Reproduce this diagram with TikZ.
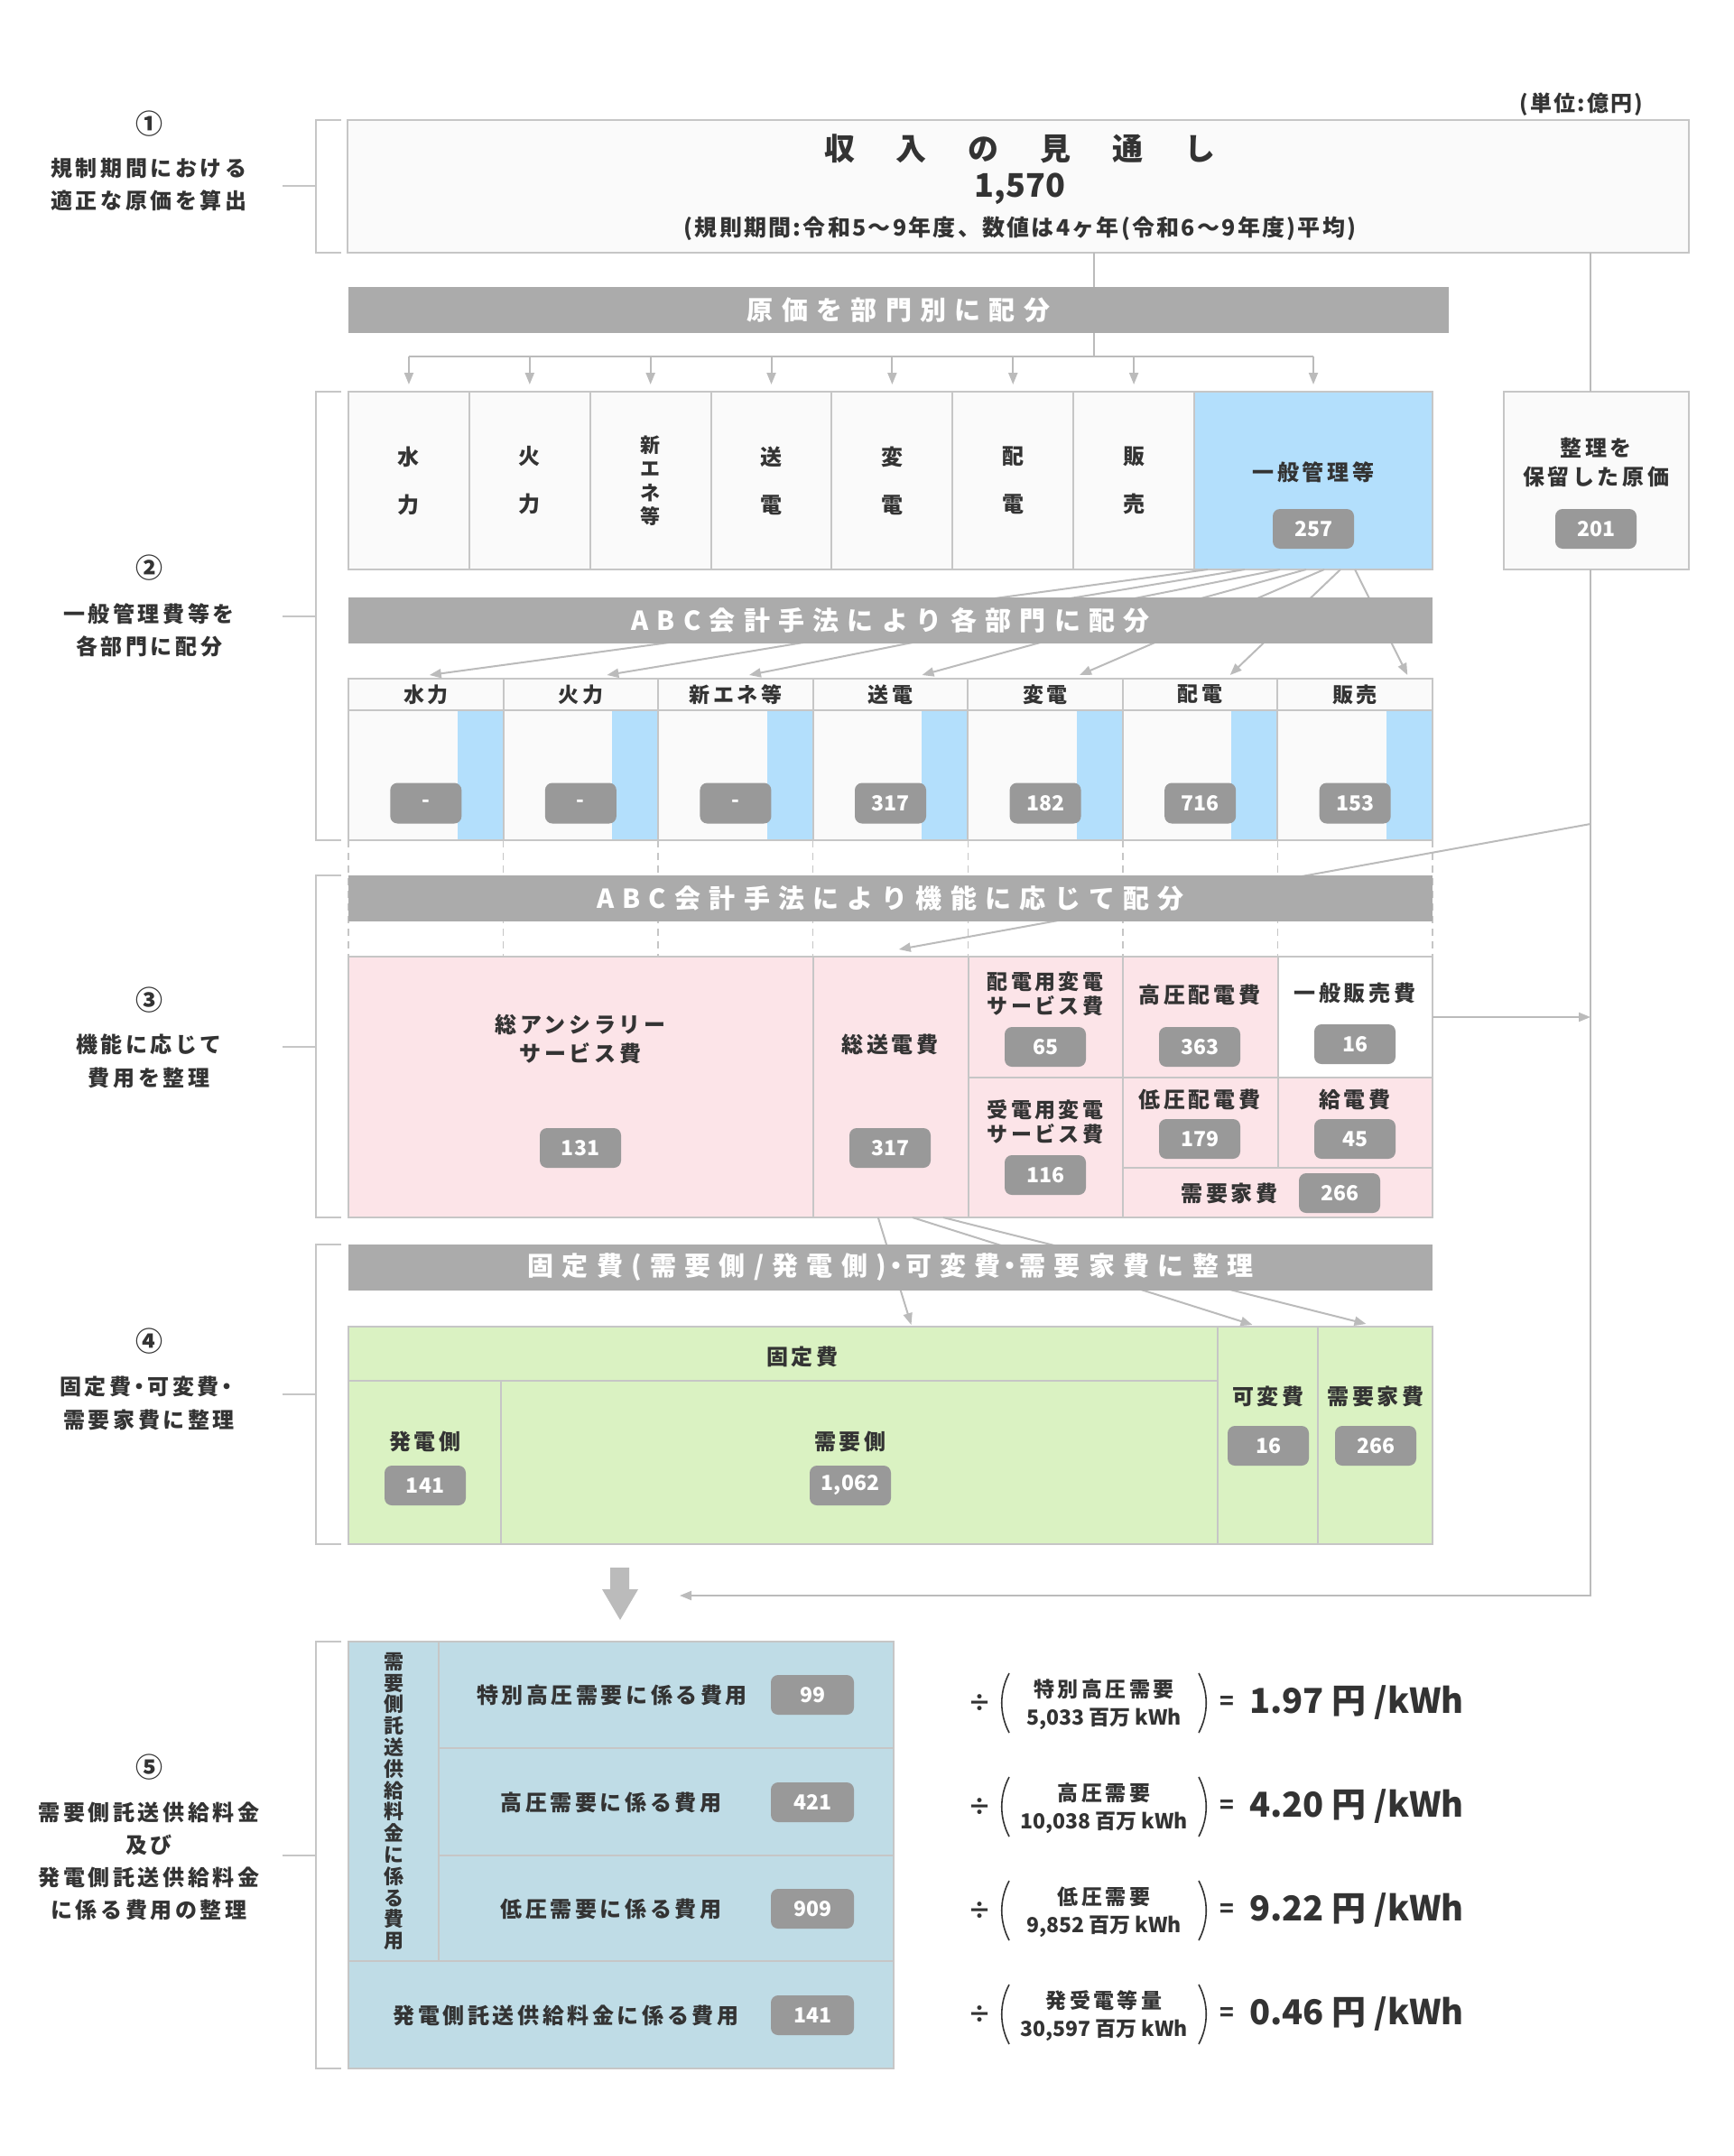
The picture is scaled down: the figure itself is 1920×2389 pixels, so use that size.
\documentclass[tikz,border=0pt]{standalone}
\usepackage{fontspec}
\setmainfont{Noto Sans CJK JP}
\newfontfamily\jpa{Noto Sans CJK JP}[LetterSpace=15]
\newfontfamily\jpb{Noto Sans CJK JP}[LetterSpace=9]
\newfontfamily\jpc{Noto Sans CJK JP}[LetterSpace=32]
\usetikzlibrary{arrows.meta}
\newcommand\fsz[2]{\fontsize{#1}{#2}\selectfont}
\newcommand\ndot[1]{\hspace{-#1}・\hspace{-#1}}

\definecolor{ink}{HTML}{333333}
\definecolor{linegray}{HTML}{BBBBBB}
\definecolor{boxline}{HTML}{C6C6C6}
\definecolor{boxfill}{HTML}{FAFAFA}
\definecolor{bargray}{HTML}{ABABAB}
\definecolor{badgegray}{HTML}{999999}
\definecolor{skyblue}{HTML}{B3DFFC}
\definecolor{pinkcell}{HTML}{FCE4E8}
\definecolor{greencell}{HTML}{DAF2C2}
\definecolor{tealcell}{HTML}{BFDCE6}

\tikzset{
  cell/.style={draw=boxline, line width=2pt, fill=boxfill, anchor=north west, inner sep=0pt, outer sep=0pt},
  bar/.style={fill=bargray, text=white, anchor=north west, inner sep=0pt, outer sep=0pt,
    minimum width=1201pt, minimum height=51pt, font=\jpc\bfseries\fsz{29}{29}},
  badge/.style={fill=badgegray, text=white, rounded corners=8pt, minimum width=90pt,
    minimum height=44pt, inner sep=0pt, font=\bfseries\fsz{23}{23}},
  lbl/.style={text=ink, align=center, inner sep=0pt, font=\jpa\bfseries\fsz{24}{32}},
  conn/.style={draw=linegray, line width=2pt},
  arr/.style={conn, -{Triangle[length=13pt,width=10pt]}},
  brk/.style={draw=boxline, line width=2pt},
}

\begin{document}
\begin{tikzpicture}[x=1pt,y=-1pt]
  \fill[white] (0,0) rectangle (1920,2389);
  \useasboundingbox (0,0) rectangle (1920,2389);

  \foreach \ya/\yb in {133/280, 434/931, 970/1349, 1379/1711, 1819/2292} {
    \draw[brk] (378,\ya) -- (350,\ya) -- (350,\yb) -- (378,\yb);
    \draw[brk] (313,{(\ya+\yb)/2}) -- (350,{(\ya+\yb)/2});
  }

  \node[lbl, font=\bfseries\fsz{30}{30}] (num1) at (165,137) {①};
  \node[lbl, font=\bfseries\fsz{30}{30}] (num2) at (165,629) {②};
  \node[lbl, font=\bfseries\fsz{30}{30}] (num3) at (165,1108) {③};
  \node[lbl, font=\bfseries\fsz{30}{30}] (num4) at (165,1486) {④};
  \node[lbl, font=\bfseries\fsz{30}{30}] (num5) at (165,1958) {⑤};
  \node[lbl, font=\jpa\bfseries\fsz{24}{36}] (step1) at (165,204) {規制期間における\\適正な原価を算出};
  \node[lbl, font=\jpa\bfseries\fsz{24}{36}] (step2) at (165,698) {一般管理費等を\\各部門に配分};
  \node[lbl, font=\jpa\bfseries\fsz{24}{37}] (step3) at (165,1176) {機能に応じて\\費用を整理};
  \node[lbl, font=\jpa\bfseries\fsz{24}{37}] (step4) at (165,1555) {固定費\ndot{3pt}可変費\ndot{3pt}\\需要家費に整理};
  \node[lbl, font=\jpa\bfseries\fsz{24}{36}] (step5) at (165,2062) {需要側託送供給料金\\及び\\発電側託送供給料金\\に係る費用の整理};

  \node[lbl, font=\jpb\bfseries\fsz{24}{24}] (unit) at (1752,116) {(単位:億円)};
  \node[cell, minimum width=1486pt, minimum height=147pt] (rev) at (385,133) {};
  \node[lbl, font=\bfseries\fsz{34}{34}] (revTitle) at (1130,165)
    {収\hspace{46pt}入\hspace{46pt}の\hspace{46pt}見\hspace{46pt}通\hspace{46pt}し};
  \node[lbl, font=\bfseries\fsz{36}{36}] (revNum) at (1130,209) {1,570};
  \node[lbl, font=\jpb\bfseries\fsz{25}{25}] (revNote) at (1130,253)
    {(規則期間:令和5〜9年度、数値は4ヶ年(令和6〜9年度)平均)};

  \node[bar, minimum width=1219pt] (bar1) at (386,318) {原価を部門別に配分};

  \foreach \i/\nm/\txt in {0/cSui/{水\\力}, 1/cKa/{火\\力}, 3/cSou/{送\\電}, 4/cHen/{変\\電},
                            5/cHai/{配\\電}, 6/cHan/{販\\売}}
    \node[cell, minimum width=133.9pt, minimum height=197pt, text=ink, align=center,
          font=\bfseries\fsz{24}{53}] (\nm) at ({386+\i*133.86},434) {\txt};
  \node[cell, minimum width=133.9pt, minimum height=197pt, text=ink, align=center,
        font=\bfseries\fsz{22}{26.5}] (cShin) at ({386+2*133.86},434) {新\\エ\\ネ\\等};
  \node[cell, fill=skyblue, minimum width=264pt, minimum height=197pt] (cGen) at (1323,434) {};
  \node[lbl] (genTxt) at (1455,523) {一般管理等};
  \node[badge] (genVal) at (1455,586) {257};

  \node[cell, minimum width=205pt, minimum height=197pt] (hold) at (1666,434) {};
  \node[lbl] (holdTxt) at (1768,512) {整理を\\保留した原価};
  \node[badge] (holdVal) at (1768,586) {201};

  \coordinate (tap) at (1212,0);
  \coordinate (bus) at (0,395);
  \coordinate (rt) at (1762,0);
  \draw[conn] (rev.south -| tap) -- (bar1.north -| tap);
  \draw[conn] (bar1.south -| tap) -- (bus -| tap);
  \draw[conn] (bus -| cSui.north) -- (bus -| cGen.north);
  \foreach \nm in {cSui,cKa,cShin,cSou,cHen,cHai,cHan,cGen}
    \draw[arr, shorten >=8pt] (bus -| \nm.north) -- (\nm.north);
  \draw[conn] (rev.south -| rt) -- (hold.north -| rt);
  \coordinate (feed) at (753,1768);
  \draw[arr] (hold.south -| rt) |- (feed);

  \foreach \i/\nm/\txt/\val in {0/Sui/水力/-, 1/Ka/火力/-, 2/Shin/新エネ等/-, 3/Sou/送電/317,
                                 4/Hen/変電/182, 5/Hai/配電/716, 6/Han/販売/153} {
    \node[cell, minimum width=171.6pt, minimum height=35pt, text=ink,
          font=\jpa\bfseries\fsz{23}{23}] (h\nm) at ({386+\i*171.57},752) {\txt};
    \node[cell, minimum width=171.6pt, minimum height=144pt] (b\nm) at ({386+\i*171.57},787) {};
    \fill[skyblue] ([xshift=-51pt,yshift=-1pt]b\nm.north east) rectangle ([xshift=-1pt,yshift=1pt]b\nm.south east);
    \node[badge, minimum width=79pt, minimum height=45pt] (v\nm) at ([yshift=-31pt]b\nm.center) {\val};
  }

  \foreach \dx/\nm/\tx in {15/Sui/4, 56/Ka/29, 95/Shin/15, 124/Sou/35, 144/Hen/38, 162/Hai/33, 178/Han/58}
    \draw[arr] ([xshift=\dx pt]cGen.south west) -- ([xshift=\tx pt,yshift=4pt]h\nm.north);
  \node[bar] (bar2) at (386,662) {ABC会計手法により各部門に配分};

  \foreach \i in {0,...,7}
    \draw[draw=boxline, line width=1.5pt, dash pattern=on 8pt off 6pt]
      ({386+\i*171.57},931) -- ({386+\i*171.57},1060);

  \node[cell, fill=pinkcell, minimum width=515pt, minimum height=289pt] (sAnc) at (386,1060) {};
  \node[cell, fill=pinkcell, minimum width=171.6pt, minimum height=289pt] (sTr) at (901,1060) {};
  \node[cell, fill=pinkcell, minimum width=171.6pt, minimum height=134pt] (sHsub) at (1072.6,1060) {};
  \node[cell, fill=pinkcell, minimum width=171.6pt, minimum height=155pt] (sRsub) at (1072.6,1194) {};
  \node[cell, fill=pinkcell, minimum width=171.6pt, minimum height=134pt] (sHv) at (1244,1060) {};
  \node[cell, fill=pinkcell, minimum width=171.6pt, minimum height=100pt] (sLv) at (1244,1194) {};
  \node[cell, fill=white, minimum width=171.6pt, minimum height=134pt] (sSell) at (1415.6,1060) {};
  \node[cell, fill=pinkcell, minimum width=171.6pt, minimum height=100pt] (sKyu) at (1415.6,1194) {};
  \node[cell, fill=pinkcell, minimum width=343.3pt, minimum height=55pt] (sCust) at (1244,1294) {};

  \node[lbl] (tAnc) at (643,1151) {総アンシラリー\\サービス費};
  \node[badge] (vAnc) at (643,1272) {131};
  \node[lbl] (tTr) at (986,1157) {総送電費};
  \node[badge] (vTr) at (986,1272) {317};
  \node[lbl, font=\jpa\bfseries\fsz{23}{27}] (tHsub) at (1158,1101) {配電用変電\\サービス費};
  \node[badge] (vHsub) at (1158,1160) {65};
  \node[lbl] (tHv) at (1329,1102) {高圧配電費};
  \node[badge] (vHv) at (1329,1160) {363};
  \node[lbl] (tSell) at (1501,1100) {一般販売費};
  \node[badge] (vSell) at (1501,1157) {16};
  \node[lbl, font=\jpa\bfseries\fsz{23}{27}] (tRsub) at (1158,1243) {受電用変電\\サービス費};
  \node[badge] (vRsub) at (1158,1302) {116};
  \node[lbl] (tLv) at (1329,1218) {低圧配電費};
  \node[badge] (vLv) at (1329,1262) {179};
  \node[lbl] (tKyu) at (1501,1218) {給電費};
  \node[badge] (vKyu) at (1501,1262) {45};
  \node[lbl] (tCust) at (1362,1322) {需要家費};
  \node[badge] (vCust) at (1484,1322) {266};

  \coordinate (abcTap) at (1762,913);
  \draw[arr] (abcTap) -- ([xshift=9pt,yshift=8pt]sTr.north);
  \node[bar] (bar3) at (386,970) {ABC会計手法により機能に応じて配分};
  \draw[arr] (sSell.east) -- (sSell.east -| rt);

  \node[cell, fill=greencell, minimum width=963pt, minimum height=60pt] (fFix) at (386,1470) {};
  \node[cell, fill=greencell, minimum width=169pt, minimum height=181pt] (fGen) at (386,1530) {};
  \node[cell, fill=greencell, minimum width=794pt, minimum height=181pt] (fDem) at (555,1530) {};
  \node[cell, fill=greencell, minimum width=111pt, minimum height=241pt] (fVar) at (1349,1470) {};
  \node[cell, fill=greencell, minimum width=127pt, minimum height=241pt] (fCust) at (1460,1470) {};
  \node[lbl] (tFix) at (889,1503) {固定費};
  \node[lbl] (tGen) at (471,1597) {発電側};
  \node[badge] (vGen) at (471,1646) {141};
  \node[lbl] (tDem) at (942,1597) {需要側};
  \node[badge] (vDem) at (942,1646) {1,062};
  \node[lbl] (tVar) at (1405,1547) {可変費};
  \node[badge] (vVar) at (1405,1602) {16};
  \node[lbl] (tCust4) at (1524,1547) {需要家費};
  \node[badge] (vCust4) at (1524,1602) {266};

  \draw[arr] ([xshift=-14pt]sTr.south) -- ([xshift=142pt,yshift=2pt]fFix.north);
  \draw[arr] ([xshift=24pt]sTr.south) -- ([xshift=-17pt,yshift=2pt]fVar.north);
  \draw[arr] ([xshift=58pt]sTr.south) -- ([xshift=-10pt,yshift=3pt]fCust.north);
  \node[bar] (bar4) at (386,1379) {固定費(需要側/発電側)\ndot{4pt}可変費\ndot{4pt}需要家費に整理};

  \fill[linegray] (676,1737) -- (697,1737) -- (697,1761) -- (707,1761) -- (687,1795)
    -- (667,1761) -- (676,1761) -- cycle;

  \node[cell, fill=tealcell, minimum width=100pt, minimum height=354pt, text=ink, align=center,
        font=\bfseries\fsz{22}{23.8}] (dSide) at (386,1819)
        {需\\要\\側\\託\\送\\供\\給\\料\\金\\に\\係\\る\\費\\用};
  \node[cell, fill=tealcell, minimum width=504pt, minimum height=118pt] (dR1) at (486,1819) {};
  \node[cell, fill=tealcell, minimum width=504pt, minimum height=119pt] (dR2) at (486,1937) {};
  \node[cell, fill=tealcell, minimum width=504pt, minimum height=117pt] (dR3) at (486,2056) {};
  \node[cell, fill=tealcell, minimum width=604pt, minimum height=119pt] (dGen) at (386,2173) {};
  \node[lbl] (tR1) at (678,1878) {特別高圧需要に係る費用};
  \node[badge, minimum width=92pt] (vR1) at (900,1878) {99};
  \node[lbl] (tR2) at (677,1997) {高圧需要に係る費用};
  \node[badge, minimum width=92pt] (vR2) at (900,1997) {421};
  \node[lbl] (tR3) at (677,2115) {低圧需要に係る費用};
  \node[badge, minimum width=92pt] (vR3) at (900,2115) {909};
  \node[lbl] (tGen5) at (627,2233) {発電側託送供給料金に係る費用};
  \node[badge, minimum width=92pt] (vGen5) at (900,2233) {141};

  \foreach \k/\yc/\qname/\qamt/\rate in {1/1887/特別高圧需要/{5,033 百万 kWh}/1.97,
      2/2002/高圧需要/{10,038 百万 kWh}/4.20, 3/2117/低圧需要/{9,852 百万 kWh}/9.22,
      4/2232/発受電等量/{30,597 百万 kWh}/0.46} {
    \node[lbl, font=\bfseries\fsz{26}{26}] (div\k) at (1085,\yc) {÷};
    \draw[ink, line width=1.6pt] (1118,{\yc-33}) .. controls (1107,{\yc-12}) and (1107,{\yc+12}) .. (1118,{\yc+33});
    \draw[ink, line width=1.6pt] (1328,{\yc-33}) .. controls (1339,{\yc-12}) and (1339,{\yc+12}) .. (1328,{\yc+33});
    \node[lbl, font=\jpa\bfseries\fsz{23}{23}] (qn\k) at (1223,{\yc-15}) {\qname};
    \node[lbl, font=\bfseries\fsz{23}{23}] (qa\k) at (1223,{\yc+18}) {\qamt};
    \node[lbl, font=\bfseries\fsz{26}{26}] (eq\k) at (1359,\yc) {=};
    \node[lbl, anchor=west, font=\bfseries\fsz{38}{38}] (rate\k) at (1384,\yc) {\rate\ 円 /kWh};
  }
\end{tikzpicture}
\end{document}
